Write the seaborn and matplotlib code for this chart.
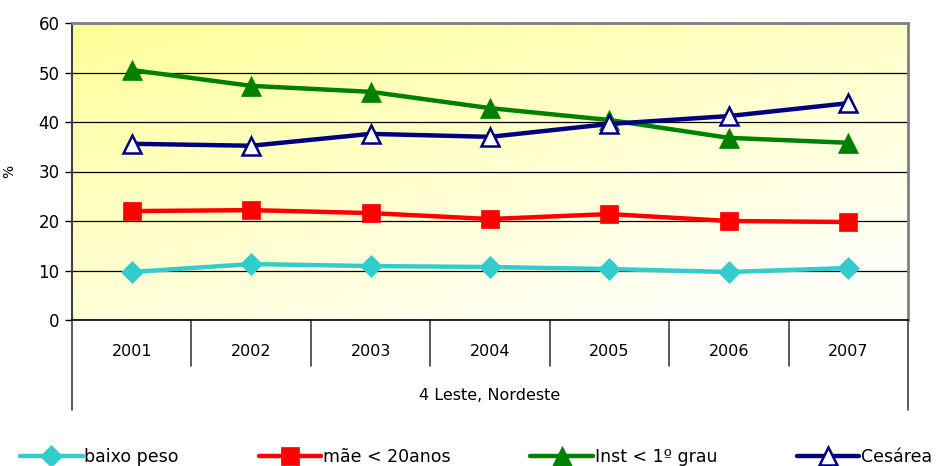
import matplotlib
matplotlib.use("Agg")
import matplotlib.pyplot as plt
import seaborn as sns
import numpy as np
import pandas as pd

sns.set_theme(style="white")
plt.rcParams['font.family'] = ['DejaVu Sans']
plt.rcParams['text.color'] = 'black'
plt.rcParams['axes.labelcolor'] = 'black'
plt.rcParams['ytick.color'] = 'black'

# Dados
anos = ['2001', '2002', '2003', '2004', '2005', '2006', '2007']
baixo_peso = [9.7, 11.3, 10.9, 10.7, 10.3, 9.7, 10.5]
mae_20anos = [22.0, 22.2, 21.6, 20.4, 21.4, 20.0, 19.8]
inst_1grau = [50.5, 47.3, 46.1, 42.8, 40.4, 36.8, 35.8]
cesarea = [35.6, 35.2, 37.6, 37.0, 39.6, 41.2, 43.8]
regiao = '4 Leste, Nordeste'

series = [
    ('baixo peso', baixo_peso, '#33CCCC', 'D', '#33CCCC', 11),
    ('mãe < 20anos', mae_20anos, '#FF0000', 's', '#FF0000', 13),
    ('Inst < 1º grau', inst_1grau, '#008000', '^', '#008000', 14),
    ('Cesárea', cesarea, '#000080', '^', 'white', 13),
]

fig = plt.figure(figsize=(9.4, 4.66), dpi=100)
ax = fig.add_axes([72 / 940, 1 - 320 / 466, 836 / 940, 297 / 466])

# fundo em degradê amarelo -> branco
gx, gy = np.meshgrid(np.linspace(0, 1, 200), np.linspace(1, 0, 200))
t = np.clip((gx * 0.6 + (1 - gy) * 0.8) / 1.2, 0, 1)
amarelo = np.array([1.0, 1.0, 0.6])
branco = np.array([1.0, 1.0, 0.97])
img = amarelo[None, None, :] * (1 - t[..., None]) + branco[None, None, :] * t[..., None]
ax.imshow(img, extent=[0, 1, 0, 1], transform=ax.transAxes, aspect='auto', zorder=0)

pos = np.arange(len(anos))
for nome, valores, cor, marc, face, ms in series:
    df = pd.DataFrame({'x': pos, 'y': valores})
    sns.lineplot(data=df, x='x', y='y', ax=ax, color=cor, linewidth=3.2,
                 marker=marc, markersize=ms, markerfacecolor=face,
                 markeredgecolor=cor, markeredgewidth=1.8 if face == 'white' else 0.5,
                 label=nome, zorder=3)

ax.set_xlim(-0.5, len(anos) - 0.5)
ax.set_ylim(0, 60)
ax.set_yticks(range(0, 61, 10))
ax.tick_params(axis='y', labelsize=12, length=5, width=1, color='black',
               labelcolor='black', direction='out', left=True, pad=4)
ax.yaxis.grid(True, color='black', linewidth=0.9)
for ln in ax.get_ygridlines():
    ln.set_zorder(1)
ax.set_xticks([])
ax.set_xlabel('')
ax.set_ylabel('%', fontsize=10, labelpad=16)

for lado in ['top', 'right']:
    ax.spines[lado].set_color('#808080')
    ax.spines[lado].set_linewidth(2)
ax.spines['left'].set_color('#404040')
ax.spines['left'].set_linewidth(1.5)
ax.spines['bottom'].set_color('black')
ax.spines['bottom'].set_linewidth(1.2)

# tabela de categorias abaixo do eixo
trans = ax.get_xaxis_transform()
for i in range(1, len(anos)):
    ax.plot([i - 0.5, i - 0.5], [0, -46 / 297], transform=trans, color='#404040',
            linewidth=1.2, clip_on=False)
for xe in [-0.5, len(anos) - 0.5]:
    ax.plot([xe, xe], [0, -90 / 297], transform=trans, color='#404040',
            linewidth=1.2, clip_on=False)
for i, a in enumerate(anos):
    ax.text(i, -32 / 297, a, transform=trans, ha='center', va='center', fontsize=11.5)
ax.text((len(anos) - 1) / 2, -75 / 297, regiao, transform=trans, ha='center',
        va='center', fontsize=11.5)

handles, labels = ax.get_legend_handles_labels()
ax.get_legend().remove()
fig.legend(handles, labels, loc='center left', bbox_to_anchor=(20 / 940, 9 / 466),
           ncol=4, frameon=False, fontsize=12.5, handlelength=3.6, handletextpad=0.1,
           columnspacing=4.6, borderpad=0, borderaxespad=0)

fig.savefig('out.png', dpi=100, facecolor='white')
